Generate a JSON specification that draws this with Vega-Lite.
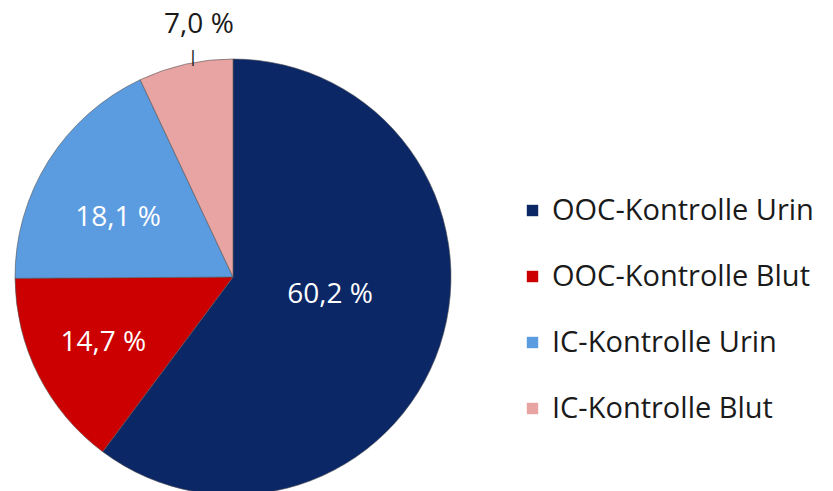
{
  "$schema": "https://vega.github.io/schema/vega-lite/v6.json",
  "autosize": "none",
  "width": 466,
  "height": 428,
  "padding": {"left": 0, "top": 63, "right": 367, "bottom": 0},
  "background": "white",
  "config": {"view": {"stroke": null}, "font": "Open Sans"},
  "data": {
    "values": [
      {"kategorie": "OOC-Kontrolle Urin", "anteil": 60.2, "label": "60,2 %", "ord": 1},
      {"kategorie": "OOC-Kontrolle Blut", "anteil": 14.7, "label": "14,7 %", "ord": 2},
      {"kategorie": "IC-Kontrolle Urin", "anteil": 18.1, "label": "18,1 %", "ord": 3},
      {"kategorie": "IC-Kontrolle Blut", "anteil": 7.0, "label": "7,0 %", "ord": 4}
    ]
  },
  "encoding": {
    "theta": {"field": "anteil", "type": "quantitative", "stack": true},
    "order": {"field": "ord", "type": "quantitative"}
  },
  "layer": [
    {
      "mark": {"type": "arc", "radius": 218, "stroke": "#555555", "strokeWidth": 0.6},
      "encoding": {
        "color": {
          "field": "kategorie",
          "type": "nominal",
          "sort": ["OOC-Kontrolle Urin", "OOC-Kontrolle Blut", "IC-Kontrolle Urin", "IC-Kontrolle Blut"],
          "scale": {
            "domain": ["OOC-Kontrolle Urin", "OOC-Kontrolle Blut", "IC-Kontrolle Urin", "IC-Kontrolle Blut"],
            "range": ["#0b2766", "#cc0000", "#5b9be0", "#e8a3a3"]
          },
          "legend": {
            "orient": "none",
            "legendX": 518,
            "legendY": 133,
            "title": null,
            "symbolType": "square",
            "symbolSize": 130,
            "symbolStrokeWidth": 0,
            "labelFontSize": 29,
            "labelFont": "Open Sans",
            "labelColor": "#1a1a1a",
            "labelOffset": 5,
            "labelLimit": 400,
            "rowPadding": 36
          }
        }
      }
    },
    {
      "mark": {"type": "text", "radius": 96, "dx": 6, "dy": -12, "fontSize": 28, "fill": "white", "font": "Open Sans"},
      "encoding": {
        "text": {"field": "label"},
        "opacity": {"condition": {"test": "datum.ord == 1", "value": 1}, "value": 0}
      }
    },
    {
      "mark": {"type": "text", "radius": 142, "dx": -3, "dy": 2, "fontSize": 28, "fill": "white", "font": "Open Sans"},
      "encoding": {
        "text": {"field": "label"},
        "opacity": {"condition": {"test": "datum.ord == 2", "value": 1}, "value": 0}
      }
    },
    {
      "mark": {"type": "text", "radius": 130, "dx": -5, "dy": 10, "fontSize": 28, "fill": "white", "font": "Open Sans"},
      "encoding": {
        "text": {"field": "label"},
        "opacity": {"condition": {"test": "datum.ord == 3", "value": 1}, "value": 0}
      }
    },
    {
      "mark": {"type": "text", "radius": 257, "dx": 22, "dy": -1, "fontSize": 28, "fill": "#1a1a1a", "font": "Open Sans"},
      "encoding": {
        "text": {"field": "label"},
        "opacity": {"condition": {"test": "datum.ord == 4", "value": 1}, "value": 0}
      }
    },
    {
      "mark": {"type": "text", "radius": 229, "dx": 10, "dy": 3, "fontSize": 16, "fill": "#1a1a1a", "font": "DejaVu Sans", "text": "|"},
      "encoding": {
        "opacity": {"condition": {"test": "datum.ord == 4", "value": 1}, "value": 0}
      }
    }
  ]
}
